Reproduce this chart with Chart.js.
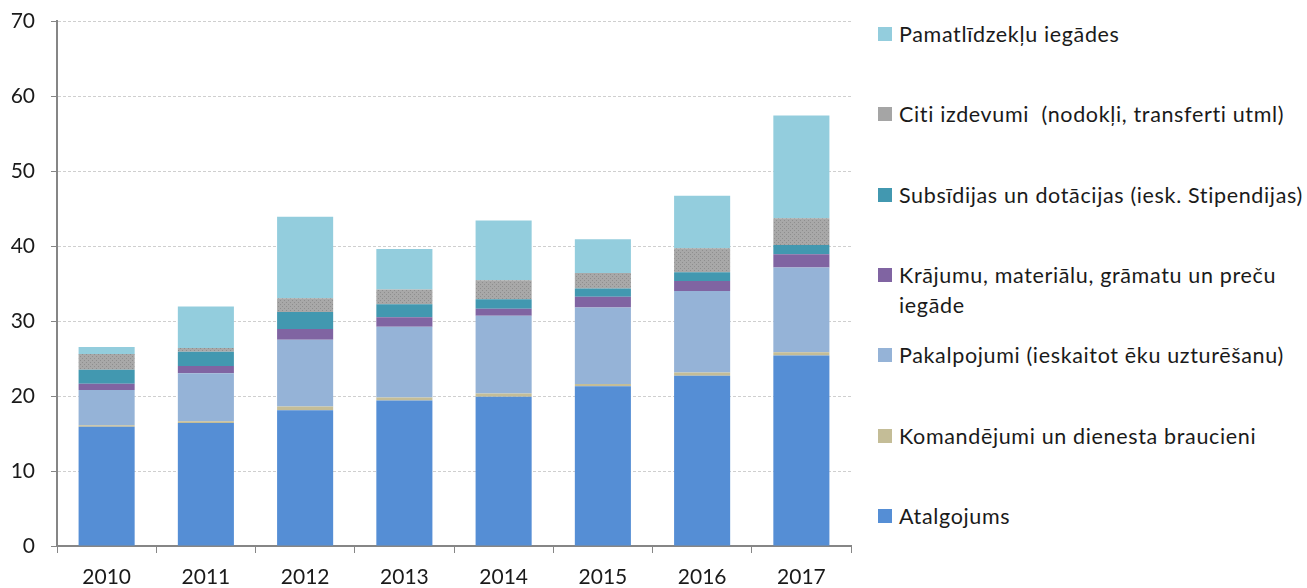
<!DOCTYPE html>
<html lang="lv">
<head>
<meta charset="UTF-8" />
<title>Izdevumi</title>
<style>
  body { margin: 0; background: #fff; font-family: Lato, "Open Sans", sans-serif; }
  #wrap { position: relative; width: 1307px; height: 588px; }
  #chart { position: absolute; left: 0; top: 0; }
  .item { position: absolute; left: 878px; white-space: pre; font-size: 21.5px; letter-spacing: 0.65px; line-height: 30px; color: #1a1a1a; }
  .box { position: absolute; left: 0; top: 8px; width: 14px; height: 14px; }
  .txt { margin-left: 21px; display: block; }
</style>
</head>
<body>
<div id="wrap">
  <canvas id="chart" width="865" height="588"></canvas>
  <div id="legend"></div>
</div>

<script src="https://cdn.jsdelivr.net/npm/chart.js"></script>
<script>
  const years = ["2010", "2011", "2012", "2013", "2014", "2015", "2016", "2017"];

  const atalgojums    = [15.9, 16.4, 18.1, 19.4, 19.9, 21.3, 22.7, 25.4];
  const komandejumi   = [0.2, 0.25, 0.5, 0.4, 0.45, 0.3, 0.45, 0.45];
  const pakalpojumi   = [4.7, 6.4, 8.9, 9.45, 10.35, 10.2, 10.85, 11.3];
  const krajumi       = [0.85, 0.95, 1.45, 1.25, 0.95, 1.45, 1.35, 1.75];
  const subsidijas    = [1.85, 1.9, 2.25, 1.75, 1.25, 1.1, 1.15, 1.25];
  const citi          = [2.1, 0.5, 1.85, 1.95, 2.55, 2.05, 3.2, 3.55];
  const pamatlidzekli = [0.95, 5.55, 10.85, 5.4, 7.95, 4.5, 7.0, 13.7];

  const seriesNames = [
    ["Atalgojums"],
    ["Komandējumi un dienesta braucieni"],
    ["Pakalpojumi (ieskaitot ēku uzturēšanu)"],
    ["Krājumu, materiālu, grāmatu un preču", "iegāde"],
    ["Subsīdijas un dotācijas (iesk. Stipendijas)"],
    ["Citi izdevumi  (nodokļi, transferti utml)"],
    ["Pamatlīdzekļu iegādes"],
  ];
  const seriesValues = [atalgojums, komandejumi, pakalpojumi, krajumi, subsidijas, citi, pamatlidzekli];
  const seriesColors = ["#558ed5", "#c4bd97", "#95b3d7", "#8064a2", "#4298b0", "#a5a5a5", "#93cddd"];

  // dotted grey fill like the excel pattern
  function dotPattern() {
    const c = document.createElement("canvas");
    c.width = 4;
    c.height = 4;
    const g = c.getContext("2d");
    g.fillStyle = "#a8a8a8";
    g.fillRect(0, 0, 4, 4);
    g.fillStyle = "#8e8e8e";
    g.fillRect(0, 0, 1, 1);
    g.fillRect(2, 2, 1, 1);
    return g.createPattern(c, "repeat");
  }

  const datasets = seriesValues.map((vals, i) => ({
    label: seriesNames[i].join(" "),
    data: vals,
    backgroundColor: i === 5 ? dotPattern() : seriesColors[i],
    borderWidth: 0,
    barPercentage: 1,
    categoryPercentage: 0.565,
  }));

  const tickFont = { family: "Lato, 'Open Sans', sans-serif", size: 21 };

  new Chart(document.getElementById("chart"), {
    type: "bar",
    data: { labels: years, datasets },
    options: {
      responsive: false,
      animation: false,
      layout: { padding: { top: 21, right: 14, bottom: 0, left: 0 } },
      plugins: {
        legend: { display: false },
        tooltip: { enabled: false },
      },
      scales: {
        x: {
          stacked: true,
          grid: { drawOnChartArea: false, drawTicks: true, tickLength: 7, tickColor: "#868686" },
          border: { color: "#868686", width: 2 },
          ticks: { font: tickFont, color: "#1a1a1a", padding: 12 },
          afterFit: (s) => { s.height = 42; },
        },
        y: {
          stacked: true,
          min: 0,
          max: 70,
          ticks: { stepSize: 10, font: tickFont, color: "#1a1a1a", padding: 16 },
          grid: { color: "#cfcfcf", lineWidth: 1, tickLength: 6, tickColor: "#868686" },
          border: { color: "#868686", width: 2, dash: [3, 2] },
          afterFit: (s) => {
            s.width = 57;
            s.paddingTop = 0;
            s.paddingBottom = 0;
          },
        },
      },
    },
  });

  // legend on the right, top to bottom in reverse series order
  const legend = document.getElementById("legend");
  for (let i = seriesNames.length - 1; i >= 0; i--) {
    const row = seriesNames.length - 1 - i;
    const item = document.createElement("div");
    item.className = "item";
    item.style.top = (34 + row * 80.3 - 15) + "px";
    const box = document.createElement("span");
    box.className = "box";
    box.style.background = seriesColors[i];
    item.appendChild(box);
    seriesNames[i].forEach((line) => {
      const t = document.createElement("span");
      t.className = "txt";
      t.textContent = line;
      item.appendChild(t);
    });
    legend.appendChild(item);
  }
</script>
</body>
</html>
